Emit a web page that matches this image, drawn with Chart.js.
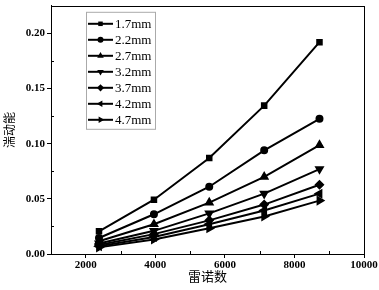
<!DOCTYPE html>
<html><head><meta charset="utf-8">
<script src="https://cdn.jsdelivr.net/npm/chart.js@4/dist/chart.umd.min.js"></script>
<style>html,body{margin:0;padding:0;background:#fff}#wrap{width:379px;height:290px}</style>
</head><body><div id="wrap"><canvas id="c" width="379" height="290"></canvas></div>
<script>
const reynolds = [2380, 3960, 5550, 7130, 8720];
const seriesLabels = ['1.7mm','2.2mm','2.7mm','3.2mm','3.7mm','4.2mm','4.7mm'];
const s17 = [0.0206, 0.0492, 0.0870, 0.1345, 0.1920];
const s22 = [0.0145, 0.0360, 0.0610, 0.0940, 0.1225];
const s27 = [0.0115, 0.0270, 0.0466, 0.0700, 0.0987];
const s32 = [0.0095, 0.0210, 0.0368, 0.0547, 0.0770];
const s37 = [0.0082, 0.0180, 0.0305, 0.0448, 0.0628];
const s42 = [0.0070, 0.0155, 0.0270, 0.0395, 0.0547];
const s47 = [0.0060, 0.0132, 0.0233, 0.0340, 0.0484];
const seriesValues = [s17, s22, s27, s32, s37, s42, s47];
const xTicks = [2000, 4000, 6000, 8000, 10000];
const yTicks = [0.00, 0.05, 0.10, 0.15, 0.20];
const xMinor = [1000, 3000, 5000, 7000, 9000];
const yMinor = [0.025, 0.075, 0.125, 0.175, 0.225];
const xTitle = '雷诺数';
const yTitle = '湍动能';

const styles = [
  {pointStyle:'rect', rotation:0, r:3.2},
  {pointStyle:'circle', rotation:0, r:3},
  {pointStyle:'triangle', rotation:0, r:3.8},
  {pointStyle:'triangle', rotation:180, r:3.8},
  {pointStyle:'rectRot', rotation:0, r:3.6},
  {pointStyle:'triangle', rotation:-90, r:3.8},
  {pointStyle:'triangle', rotation:90, r:3.8}
];

const datasets = seriesLabels.map((lab,i)=>({
  label: lab,
  data: reynolds.map((x,j)=>({x:x, y:seriesValues[i][j]})),
  borderColor:'#000', backgroundColor:'#000', borderWidth:2,
  pointStyle: styles[i].pointStyle, rotation: styles[i].rotation,
  pointRadius: styles[i].r, pointHoverRadius: styles[i].r,
  tension:0, fill:false
}));

const serif = '"Liberation Serif","Times New Roman",serif';
const cjk = '"Noto Sans CJK SC",sans-serif';

const framePlugin = {
  id:'frame',
  afterDraw(chart){
    const ctx = chart.ctx, a = chart.chartArea;
    const xs = chart.scales.x, ys = chart.scales.y;
    ctx.save();
    ctx.strokeStyle = '#000'; ctx.lineWidth = 1;
    ctx.strokeRect(Math.round(a.left)+0.5, Math.round(a.top)+0.5, Math.round(a.right-a.left), Math.round(a.bottom-a.top));
    ctx.beginPath();
    xMinor.forEach(v=>{ const p = Math.round(xs.getPixelForValue(v))+0.5; if(p>a.left+1 && p<a.right-1){ctx.moveTo(p, a.bottom); ctx.lineTo(p, a.bottom-3);} });
    yMinor.forEach(v=>{ const p = Math.round(ys.getPixelForValue(v))+0.5; if(p>a.top+1 && p<a.bottom-1){ctx.moveTo(a.left, p); ctx.lineTo(a.left+3, p);} });
    ctx.stroke();
    // legend
    const lx = a.left + 35, ly = a.top + 6, lw = 69, lh = 117;
    ctx.fillStyle = '#fff';
    ctx.fillRect(lx, ly, lw, lh);
    ctx.strokeStyle = '#aaa';
    ctx.strokeRect(lx+0.5, ly+0.5, lw, lh);
    ctx.font = '13px ' + serif;
    ctx.textBaseline = 'middle';
    chart.data.datasets.forEach((ds,i)=>{
      const y = ly + 12 + i*16;
      ctx.strokeStyle = '#000'; ctx.lineWidth = 2;
      ctx.beginPath(); ctx.moveTo(lx+2, y); ctx.lineTo(lx+27, y); ctx.stroke();
      ctx.fillStyle = '#000';
      Chart.helpers.drawPoint(ctx, {pointStyle: ds.pointStyle, rotation: ds.rotation, radius: ds.pointRadius, borderWidth:0}, lx+14.5, y);
      ctx.fillStyle = '#000';
      ctx.fillText(ds.label, lx+29, y+1);
    });
    ctx.restore();
  }
};

new Chart(document.getElementById('c'), {
  type:'line',
  data:{datasets},
  options:{
    responsive:false, animation:false, devicePixelRatio:1,
    layout:{padding:{left:0, right:15, top:3, bottom:2}},
    plugins:{legend:{display:false}, tooltip:{enabled:false}},
    scales:{
      x:{
        type:'linear', min:1000, max:10000,
        afterBuildTicks(s){ s.ticks = xTicks.map(v=>({value:v})); },
        afterFit(s){ s.height = 34; },
        ticks:{color:'#000', font:{family:serif, size:11, weight:'bold'}, padding:1, maxRotation:0, callback:v=>String(v)},
        grid:{display:true, drawOnChartArea:false, tickLength:4, color:'#000'},
        border:{display:true, color:'#000', width:1},
        title:{display:true, text:xTitle, color:'#000', font:{family:cjk, size:13}, padding:{top:0, bottom:4}}
      },
      y:{
        type:'linear', min:0, max:0.225,
        afterBuildTicks(s){ s.ticks = yTicks.map(v=>({value:v})); },
        afterFit(s){ s.width = 51; s.paddingTop = 0; s.paddingBottom = 0; },
        ticks:{color:'#000', font:{family:serif, size:11, weight:'bold', lineHeight:0.3}, padding:2, callback:v=>Number(v).toFixed(2)},
        grid:{display:true, drawOnChartArea:false, tickLength:4, color:'#000'},
        border:{display:true, color:'#000', width:1},
        title:{display:true, text:yTitle, color:'#000', font:{family:cjk, size:12}, padding:{top:2, bottom:0}}
      }
    }
  },
  plugins:[framePlugin]
});
</script>
</body></html>
